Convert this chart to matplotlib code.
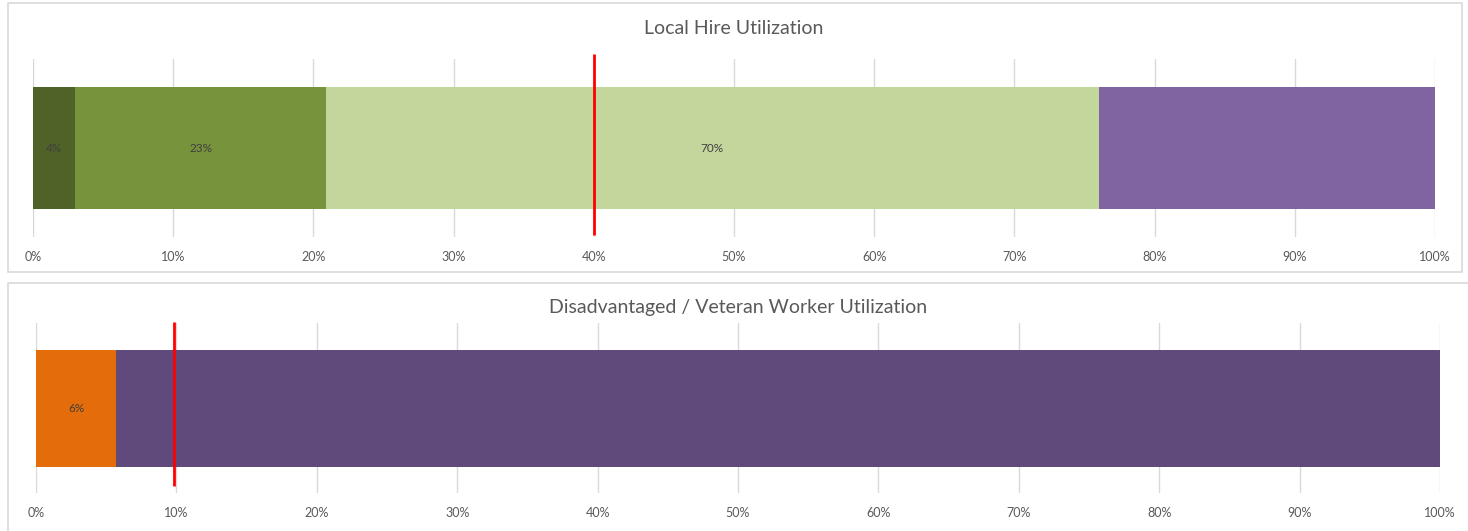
import matplotlib
matplotlib.use("Agg")
import matplotlib.pyplot as plt
from matplotlib.patches import Rectangle
from matplotlib.ticker import FuncFormatter

# -----------------------------------
# Data
# -----------------------------------
local_titles = "Local Hire Utilization"
local_widths = [3.0, 17.9, 55.1, 24.0]
local_labels = ["4%", "23%", "70%", None]
local_colors = ["#4F6228", "#77933C", "#C3D69B", "#8064A2"]
local_goal = 40

dv_title = "Disadvantaged / Veteran Worker Utilization"
dv_widths = [5.7, 94.3]
dv_labels = ["6%", None]
dv_colors = ["#E46C0A", "#604A7B"]
dv_goal = 9.8

ticks = list(range(0, 101, 10))

W, H = 1468, 531
plt.rcParams["font.family"] = ["Lato", "DejaVu Sans"]
text_col = "#595959"
grid_col = "#D9D9D9"

fig = plt.figure(figsize=(W / 100, H / 100), dpi=100)


def px_box(x0, y0, x1, y1):
    # pixel box (top-left origin) -> figure fraction rect
    return [x0 / W, 1 - y1 / H, (x1 - x0) / W, (y1 - y0) / H]


def draw_panel(rect, title, title_y, widths, labels, colors, goal,
               bar_frac, goal_top, goal_bot, border):
    # border of the chart area
    bx = px_box(*border)
    fig.patches.append(Rectangle((bx[0], bx[1]), bx[2], bx[3],
                                 transform=fig.transFigure, fill=False,
                                 edgecolor=grid_col, linewidth=1.2))
    fig.text(0.5 * (rect[0] + rect[2]) / W, 1 - title_y / H, title,
             ha="center", va="center", fontsize=14, color=text_col)

    ax = fig.add_axes(px_box(*rect))
    left = 0
    for w, lab, c in zip(widths, labels, colors):
        ax.barh(0, w, left=left, height=bar_frac, color=c, zorder=2)
        if lab:
            ax.text(left + w / 2, 0, lab, ha="center", va="center",
                    fontsize=8.5, color="#404040", zorder=3)
        left += w

    ax.vlines(goal, goal_bot, goal_top, color="#FF0000", linewidth=2,
              zorder=4, clip_on=False)

    ax.set_xlim(0, 100)
    ax.set_ylim(-0.5, 0.5)
    ax.set_xticks(ticks)
    ax.xaxis.set_major_formatter(FuncFormatter(lambda v, p: f"{v:.0f}%"))
    ax.set_yticks([])
    ax.tick_params(axis="x", length=0, pad=10, labelsize=9,
                   labelcolor=text_col)
    ax.grid(axis="x", color=grid_col, linewidth=1, zorder=0)
    ax.set_axisbelow(True)
    for s in ax.spines.values():
        s.set_visible(False)
    return ax


draw_panel((33, 59, 1435, 237), local_titles, 28,
           local_widths, local_labels, local_colors, local_goal,
           122 / 178, 0.5 + 5 / 178, -0.5 + 2 / 178, (8, 3, 1462, 272))

draw_panel((36, 323, 1440, 493), dv_title, 308,
           dv_widths, dv_labels, dv_colors, dv_goal,
           117 / 170, 0.5 + 1 / 170, -0.5 + 7 / 170, (8, 283, 1475, 540))

fig.savefig("out.png", dpi=100)
